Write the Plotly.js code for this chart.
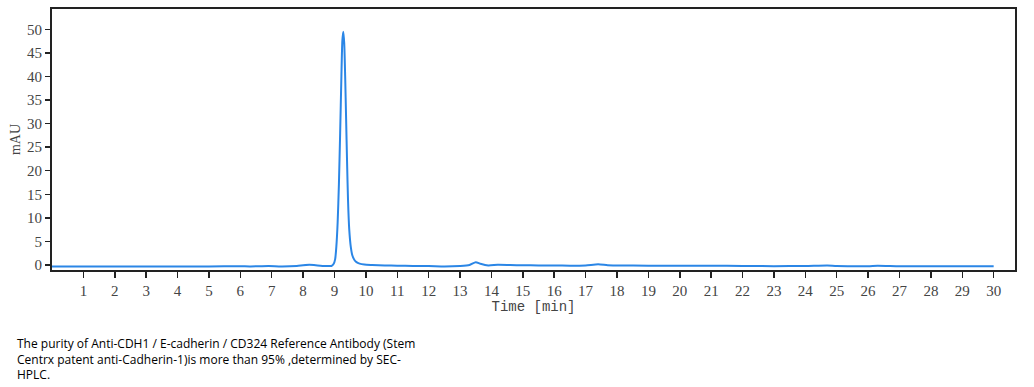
<!DOCTYPE html>
<html>
<head>
<meta charset="utf-8">
<script src="https://cdn.plot.ly/plotly-3.0.1.min.js"></script>
<style>html,body{margin:0;padding:0;background:#fff;} #chart{width:1034px;height:387px;}</style>
</head>
<body>
<div id="chart"></div>
<script>
// Retention time (min) and absorbance (mAU)
var timeMin = [0, 1, 2, 3, 4, 5, 6, 6.3, 6.9, 7.3, 7.8, 8.0, 8.2, 8.4, 8.7, 8.9, 8.97, 9.02, 9.06, 9.1, 9.14, 9.18, 9.22, 9.25, 9.28, 9.31, 9.34, 9.37, 9.4, 9.43, 9.47, 9.52, 9.57, 9.63, 9.7, 9.8, 9.95, 10.2, 10.6, 11, 11.5, 12, 12.5, 13, 13.3, 13.5, 13.65, 13.9, 14.2, 14.6, 15, 15.5, 16, 16.5, 17, 17.4, 17.7, 18, 19, 20, 21, 22, 23, 24, 24.7, 25, 26, 26.3, 27, 28, 29, 30];
var mAU =     [-0.3, -0.3, -0.3, -0.3, -0.3, -0.3, -0.25, -0.3, -0.2, -0.3, -0.2, -0.05, 0.05, -0.05, -0.2, -0.2, 0.2, 1.2, 4, 9, 17, 28, 40, 47.5, 49.5, 47, 40, 31, 22, 14, 7.5, 3.8, 2.0, 1.1, 0.6, 0.3, 0.1, 0.0, -0.1, -0.15, -0.2, -0.2, -0.3, -0.2, 0.0, 0.6, 0.25, -0.1, 0.05, 0.0, -0.05, -0.1, -0.1, -0.15, -0.1, 0.15, -0.05, -0.1, -0.15, -0.15, -0.15, -0.2, -0.25, -0.2, -0.1, -0.2, -0.25, -0.15, -0.25, -0.25, -0.25, -0.25];

var xTicks = [1,2,3,4,5,6,7,8,9,10,11,12,13,14,15,16,17,18,19,20,21,22,23,24,25,26,27,28,29,30];
var yTicks = [0,5,10,15,20,25,30,35,40,45,50];
var captionLines = [
  "The purity of Anti-CDH1 / E-cadherin / CD324 Reference Antibody (Stem",
  "Centrx patent anti-Cadherin-1)is more than 95% ,determined by SEC-",
  "HPLC."
];

var trace = {
  x: timeMin, y: mAU, type: 'scatter', mode: 'lines',
  line: {color: '#2b86e6', width: 2, shape: 'spline', smoothing: 0.6},
  hoverinfo: 'skip'
};

var tickFont = {family: 'Liberation Serif, serif', size: 15, color: '#444'};
var layout = {
  width: 1034, height: 387,
  margin: {l: 52, r: 19, t: 9, b: 117},
  paper_bgcolor: '#fff', plot_bgcolor: '#fff',
  showlegend: false,
  xaxis: {
    range: [0, 30.68], tickvals: xTicks, ticktext: xTicks.map(String),
    ticks: 'outside', ticklen: 6, tickwidth: 1.5, tickcolor: '#222',
    showline: true, linecolor: '#222', linewidth: 2, mirror: true,
    showgrid: false, zeroline: false, tickfont: tickFont,
    title: {text: 'Time [min]', font: {family: 'Liberation Mono, monospace', size: 14, color: '#444'}, standoff: 1}
  },
  yaxis: {
    range: [-1.06, 54.3], tickvals: yTicks, ticktext: yTicks.map(String),
    ticks: 'outside', ticklen: 5, tickwidth: 1.5, tickcolor: '#222',
    showline: true, linecolor: '#222', linewidth: 2, mirror: true,
    showgrid: false, zeroline: false, tickfont: tickFont,
    title: {text: 'mAU', font: {family: 'Liberation Serif, serif', size: 14, color: '#444'}, standoff: 3}
  },
  annotations: [{
    text: captionLines.join('<br>'), xref: 'paper', yref: 'paper',
    x: (15-52)/963, y: (270-333)/261,
    xanchor: 'left', yanchor: 'top', showarrow: false, align: 'left',
    font: {family: 'Open Sans, sans-serif', size: 12, color: '#000'}
  }]
};

Plotly.newPlot('chart', [trace], layout, {staticPlot: true, displayModeBar: false});
</script>
</body>
</html>
